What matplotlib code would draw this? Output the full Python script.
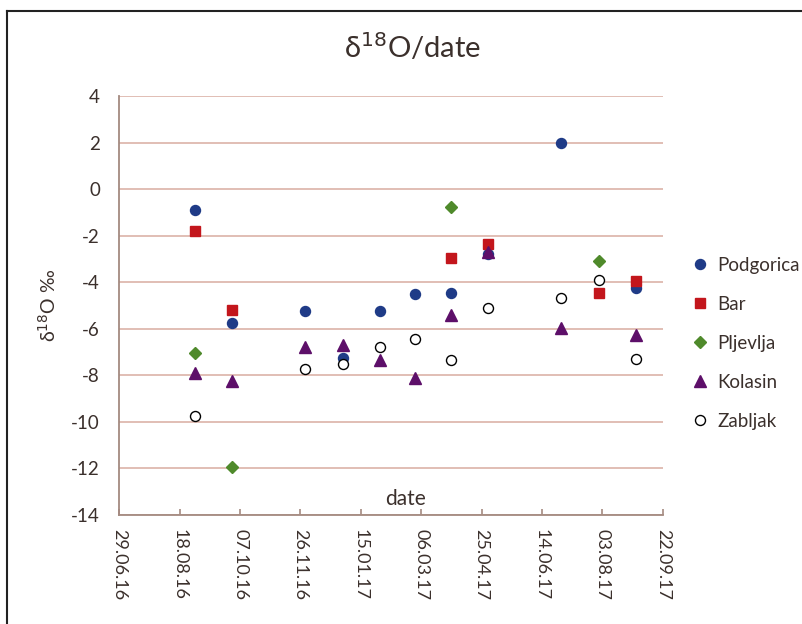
import numpy as np
import pandas as pd
import matplotlib
matplotlib.use('Agg')
import matplotlib.pyplot as plt
import matplotlib.dates as mdates
from matplotlib.lines import Line2D

plt.rcParams['font.family'] = ['Lato', 'DejaVu Sans']
plt.rcParams['axes.unicode_minus'] = False

# sampling dates (roughly end of month)
dates = pd.to_datetime(['2016-08-31', '2016-09-30', '2016-11-30', '2016-12-31',
                        '2017-01-31', '2017-03-01', '2017-03-31', '2017-04-30',
                        '2017-06-30', '2017-07-31', '2017-08-31'])
nan = np.nan
podgorica = [-0.9, -5.75, -5.25, -7.25, -5.25, -4.5, -4.45, -2.8, 2.0, nan, -4.25]
bar = [-1.8, -5.2, nan, nan, nan, nan, -2.95, -2.35, nan, -4.45, -3.95]
pljevlja = [-7.05, -11.95, nan, nan, nan, nan, -0.75, nan, nan, -3.1, nan]
kolasin = [-7.9, -8.25, -6.8, -6.7, -7.35, -8.1, -5.4, -2.7, -5.95, nan, -6.25]
zabljak = [-9.75, nan, -7.75, -7.5, -6.8, -6.45, -7.35, -5.1, -4.7, -3.9, -7.3]

tick_start = pd.Timestamp('2016-06-29')
tick_dates = [tick_start + pd.Timedelta(days=50 * i) for i in range(10)]

text_col = '#3b302c'
spine_col = '#a48a80'
grid_col = '#dcb3a8'

fig = plt.figure(figsize=(8.03, 6.24), dpi=100)
ax = fig.add_axes([0.1486, 0.1747, 0.6767, 0.6715])

ax.plot(dates, podgorica, 'o', color='#1f3b87', ms=7.2, label='Podgorica', zorder=3)
ax.plot(dates, bar, 's', color='#c3161c', ms=7, label='Bar', zorder=3)
ax.plot(dates, pljevlja, 'D', color='#4f8a2b', ms=6, label='Pljevlja', zorder=3)
ax.plot(dates, kolasin, '^', color='#5d0f69', ms=8.5, label='Kolasin', zorder=4)
ax.plot(dates, zabljak, 'o', mfc='white', mec='black', mew=1.0, ms=7.2, label='Zabljak', zorder=3)

ax.set_xlim(tick_dates[0], tick_dates[-1])
ax.set_ylim(-14, 4)
ax.set_yticks(np.arange(-14, 5, 2))
ax.set_xticks(tick_dates)
ax.xaxis.set_major_formatter(mdates.DateFormatter('%d.%m.%y'))

ax.grid(axis='y', color=grid_col, lw=1.2)
ax.set_axisbelow(True)
for s in ['top', 'right']:
    ax.spines[s].set_visible(False)
for s in ['left', 'bottom']:
    ax.spines[s].set_color(spine_col)
    ax.spines[s].set_linewidth(1.3)

ax.tick_params(axis='y', length=0, pad=14, labelsize=13.5, labelcolor=text_col)
ax.tick_params(axis='x', direction='in', length=4, color=spine_col, width=1.2,
               pad=10, labelsize=13, labelcolor=text_col)
for lbl in ax.get_xticklabels():
    lbl.set_rotation(-90)
    lbl.set_va('top')
    lbl.set_ha('center')

ax.text(0.526, 0.015, 'date', transform=ax.transAxes, ha='center', va='bottom',
        fontsize=15, color=text_col)
ax.set_ylabel('δ$^{18}$O ‰', fontsize=14, color=text_col, labelpad=9)

fig.text(0.514, 1 - 47 / 624, 'δ$^{18}$O/date', ha='center', va='center',
         fontsize=21, color=text_col)

leg = ax.legend(loc='center left', bbox_to_anchor=(1.045, 0.41), frameon=False,
                fontsize=13.5, handlelength=0.6, handletextpad=0.6, labelspacing=1.17,
                borderaxespad=0)
for t in leg.get_texts():
    t.set_color(text_col)

# frame lines on top and left edges
fig.add_artist(Line2D([7 / 803, 1], [1 - 11 / 624, 1 - 11 / 624], transform=fig.transFigure,
                      color='#222222', lw=1.5))
fig.add_artist(Line2D([7 / 803, 7 / 803], [0, 1 - 11 / 624], transform=fig.transFigure,
                      color='#222222', lw=1.5))

fig.savefig('out.png', dpi=100)
